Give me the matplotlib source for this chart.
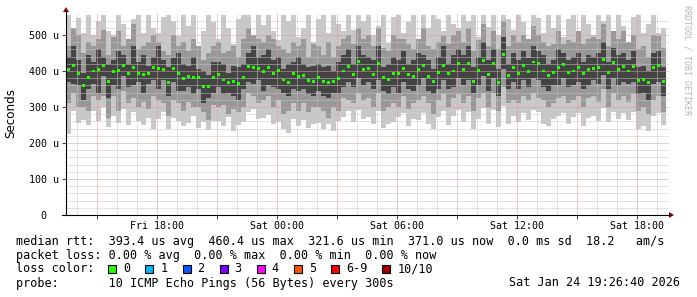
import numpy as np
import matplotlib
matplotlib.use("Agg")
import matplotlib.pyplot as plt
from matplotlib.transforms import Affine2D
from matplotlib.patches import Rectangle, Polygon
from matplotlib.lines import Line2D

# -----------------------------------------------------
# data (microseconds), one column per 15 minutes,
# window starts Fri 13:26:40 and ends Sat 19:26:40
# -----------------------------------------------------
step_h = 0.25

median = [405, 415, 392, 361, 382, 400, 404, 415, 370, 398,
          402, 416, 392, 411, 394, 390, 392, 411, 408, 404,
          368, 407, 392, 380, 386, 383, 381, 356, 357, 382,
          390, 375, 368, 370, 366, 382, 412, 411, 408, 398,
          410, 392, 401, 375, 368, 392, 386, 388, 374, 372,
          383, 372, 369, 370, 378, 400, 412, 389, 426, 404,
          408, 390, 420, 382, 376, 392, 394, 406, 390, 386,
          404, 416, 386, 372, 397, 414, 392, 400, 420, 405,
          420, 370, 401, 428, 390, 422, 369, 447, 388, 411,
          394, 414, 399, 425, 420, 400, 388, 395, 410, 418,
          395, 400, 411, 394, 404, 408, 410, 431, 395, 423,
          405, 413, 400, 412, 374, 376, 368, 410, 416, 372]

# highest ping
ping_max = [556, 520, 548, 505, 556, 470, 540, 556, 512, 495,
            556, 530, 488, 545, 556, 505, 556, 520, 480, 550,
            556, 540, 498, 556, 525, 556, 470, 510, 556, 535,
            490, 556, 520, 476, 545, 556, 556, 500, 556, 528,
            556, 512, 485, 556, 540, 556, 495, 520, 556, 480,
            545, 556, 505, 556, 530, 488, 556, 515, 556, 540,
            556, 500, 525, 556, 478, 550, 556, 505, 535, 556,
            490, 556, 520, 556, 545, 498, 556, 530, 510, 556,
            540, 556, 485, 556, 522, 556, 500, 556, 545, 515,
            556, 535, 490, 556, 548, 505, 556, 520, 556, 475,
            545, 556, 510, 556, 530, 495, 556, 540, 556, 512,
            556, 525, 480, 550, 556, 505, 530, 556, 498, 520]

# outer upper ping
ping_hi2 = [470, 520, 500, 450, 480, 500, 490, 515, 445, 500,
            510, 470, 490, 530, 460, 470, 480, 500, 505, 455,
            445, 500, 470, 480, 455, 490, 470, 430, 450, 470,
            480, 450, 455, 470, 440, 490, 520, 500, 490, 480,
            500, 490, 470, 460, 450, 480, 470, 490, 440, 475,
            470, 445, 480, 440, 470, 510, 500, 475, 520, 490,
            500, 470, 520, 465, 455, 500, 490, 490, 475, 460,
            490, 520, 470, 460, 480, 510, 475, 500, 520, 480,
            520, 455, 495, 530, 470, 510, 460, 540, 470, 500,
            480, 500, 490, 525, 500, 480, 470, 475, 510, 495,
            485, 480, 510, 475, 490, 500, 490, 530, 470, 510,
            490, 510, 480, 500, 460, 470, 440, 500, 505, 465]

# inner upper ping
ping_hi3 = [440, 470, 430, 395, 445, 425, 460, 440, 420, 430,
            455, 445, 420, 470, 425, 445, 415, 440, 470, 430,
            410, 435, 450, 420, 415, 440, 405, 400, 390, 425,
            425, 420, 395, 415, 410, 420, 450, 470, 440, 445,
            460, 430, 440, 405, 420, 425, 440, 420, 410, 415,
            420, 410, 415, 400, 425, 445, 460, 420, 470, 445,
            440, 430, 470, 410, 420, 440, 430, 455, 420, 430,
            450, 445, 430, 405, 440, 470, 420, 445, 460, 445,
            470, 410, 440, 480, 430, 460, 405, 495, 420, 450,
            430, 455, 435, 470, 455, 445, 420, 430, 460, 450,
            430, 440, 450, 425, 445, 440, 450, 480, 425, 465,
            445, 450, 430, 455, 410, 415, 400, 450, 455, 410]

# inner lower ping
ping_lo3 = [370, 365, 360, 320, 350, 365, 340, 385, 325, 360,
            350, 385, 355, 360, 370, 340, 365, 375, 350, 375,
            330, 370, 345, 345, 355, 335, 350, 310, 325, 340,
            355, 335, 340, 330, 320, 350, 370, 365, 375, 345,
            360, 355, 350, 340, 330, 350, 345, 350, 335, 330,
            345, 330, 325, 340, 340, 355, 370, 355, 380, 360,
            370, 350, 375, 345, 335, 355, 340, 370, 350, 345,
            360, 380, 345, 335, 350, 375, 350, 355, 380, 360,
            375, 340, 360, 385, 345, 380, 330, 405, 350, 370,
            350, 375, 355, 380, 375, 355, 345, 360, 360, 380,
            355, 360, 370, 350, 360, 375, 365, 390, 350, 380,
            360, 370, 365, 370, 335, 340, 320, 365, 370, 330]

# outer lower ping
ping_lo2 = [310, 340, 300, 300, 290, 330, 320, 330, 270, 330,
            290, 345, 310, 325, 300, 315, 295, 330, 320, 310,
            275, 320, 310, 290, 315, 300, 300, 285, 265, 305,
            300, 305, 280, 295, 285, 300, 340, 330, 310, 320,
            330, 300, 320, 280, 290, 310, 290, 310, 285, 300,
            300, 290, 270, 300, 290, 325, 320, 310, 340, 320,
            325, 300, 340, 290, 300, 310, 300, 330, 295, 310,
            320, 330, 310, 280, 320, 335, 300, 325, 335, 310,
            330, 290, 325, 340, 300, 340, 290, 355, 310, 320,
            310, 330, 320, 340, 325, 320, 300, 310, 325, 330,
            310, 320, 330, 300, 325, 330, 315, 350, 300, 340,
            320, 330, 315, 335, 290, 300, 280, 320, 330, 285]

# lowest ping
ping_min = [225, 290, 255, 265, 250, 290, 262, 300, 245, 275,
            255, 295, 250, 285, 262, 250, 270, 240, 268, 285,
            240, 270, 262, 248, 255, 275, 242, 258, 236, 262,
            262, 248, 272, 232, 250, 258, 285, 295, 268, 270,
            278, 252, 258, 238, 228, 268, 248, 265, 243, 252,
            256, 238, 252, 233, 262, 272, 288, 258, 292, 268,
            272, 252, 288, 242, 252, 258, 272, 282, 248, 266,
            265, 282, 252, 238, 272, 288, 250, 276, 292, 258,
            286, 238, 266, 296, 252, 292, 244, 302, 254, 276,
            258, 282, 264, 292, 286, 254, 248, 266, 274, 282,
            254, 272, 282, 248, 270, 276, 262, 296, 258, 286,
            268, 282, 264, 286, 238, 246, 232, 276, 282, 250]

y_ticks = [0, 100, 200, 300, 400, 500]
y_labels = ["0", "100 u", "200 u", "300 u", "400 u", "500 u"]
x_tick_hours = [4.5556, 10.5556, 16.5556, 22.5556, 28.5556]
x_labels = ["Fri 18:00", "Sat 00:00", "Sat 06:00", "Sat 12:00", "Sat 18:00"]

loss_labels = ["0", "1", "2", "3", "4", "5", "6-9", "10/10"]
loss_colors = ["#26ff00", "#00b8ff", "#0059ff", "#7e00ff", "#ff00ff",
               "#ff5500", "#ff0000", "#a10000"]

stats_line = "median rtt:  393.4 us avg  460.4 us max  321.6 us min  371.0 us now  0.0 ms sd  18.2   am/s"
loss_line = "packet loss: 0.00 % avg  0.00 % max  0.00 % min  0.00 % now"
probe_line = "probe:       10 ICMP Echo Pings (56 Bytes) every 300s"
stamp = "Sat Jan 24 19:26:40 2026"

# -----------------------------------------------------
# figure
# -----------------------------------------------------
W, H = 697, 297
fig = plt.figure(figsize=(W / 100, H / 100), dpi=100)
fig.patch.set_facecolor("white")
px = Affine2D().scale(1 / W, -1 / H).translate(0, 1) + fig.transFigure

y_top = 558
ax = fig.add_axes([66 / W, (H - 215) / H, 603 / W, (y_top * 0.36) / H])
ax.set_xlim(0, 30.15)
ax.set_ylim(0, y_top)
for s in ax.spines.values():
    s.set_visible(False)

t = np.arange(len(median)) * step_h
med = np.array(median, float)
upper = np.sort(np.vstack([ping_hi3, ping_hi2, ping_max]).astype(float), axis=0)
lower = np.sort(np.vstack([ping_min, ping_lo2, ping_lo3]).astype(float), axis=0)

# smoke: light outer band, mid band, dark core
shades = ["#c8c8c8", "#989898", "#444444"]
for k, col in enumerate(shades):
    ax.bar(t, upper[2 - k] - lower[k], bottom=lower[k], width=step_h,
           align="edge", color=col, linewidth=0, zorder=1)

# median markers
ax.bar(t + step_h / 2, 8.3, bottom=med - 4.15, width=step_h * 0.65,
       color="#26ff00", linewidth=0, zorder=4)

# grid, dotted on top of the smoke
dots = (0, (1, 1))
for v in range(20, y_top, 20):
    major = v % 100 == 0
    ax.axhline(v, color="#e09a9a" if major else "#c6c6c6", lw=0.72,
               ls=dots, zorder=3)
h = 0.5556
while h < 30.15:
    major = round(h - 1.5556) % 3 == 0
    ax.axvline(h, color="#e09a9a" if major else "#c6c6c6", lw=0.72,
               ls=dots, zorder=3)
    h += 1

# ticks and labels
mono = "DejaVu Sans Mono"
ax.set_yticks(y_ticks)
ax.set_yticklabels(y_labels, family=mono, fontsize=7.2)
for lab in ax.get_yticklabels():
    lab.set_horizontalalignment("center")
ax.tick_params(axis="y", length=3, width=0.72, color="#444444", pad=13)
ax.set_xticks(x_tick_hours)
ax.set_xticklabels(x_labels, family=mono, fontsize=7.2)
ax.set_xticks(np.arange(1.5556, 30.15, 3), minor=True)
ax.tick_params(axis="x", which="both", length=3, width=0.72,
               color="#444444", pad=1.5)

# axis lines with arrows
fig.add_artist(Line2D([66, 66], [215, 11], transform=px, color="black", lw=0.8))
fig.add_artist(Line2D([62, 670], [215, 215], transform=px, color="black", lw=0.8))
fig.add_artist(Polygon([[63, 12], [69, 12], [66, 7]], closed=True,
                       transform=px, color="#8b0000", lw=0))
fig.add_artist(Polygon([[669, 212], [669, 218], [674, 215]], closed=True,
                       transform=px, color="#8b0000", lw=0))

fig.text(11, 113, "Seconds", transform=px, rotation=90, fontsize=8.6,
         ha="center", va="center", family="DejaVu Sans")
fig.text(687, 60, "RRDTOOL / TOBI OETIKER", transform=px, rotation=270,
         fontsize=6, ha="center", va="center", family=mono, color="#b4b4b4")

# legend block
fs = 8.5
fig.text(16, 241, stats_line, transform=px, family=mono, fontsize=fs, va="center")
fig.text(16, 255, loss_line, transform=px, family=mono, fontsize=fs, va="center")
fig.text(16, 269, "loss color:", transform=px, family=mono, fontsize=fs, va="center")
x = 108.3
for lab, col in zip(loss_labels, loss_colors):
    fig.add_artist(Rectangle((x, 265.3), 8, 8, transform=px, facecolor=col,
                             edgecolor="black", lw=0.8))
    fig.text(x + 15, 269, lab, transform=px, family=mono, fontsize=fs, va="center")
    x += 30 + 7.1 * len(lab)
fig.text(16, 283, probe_line, transform=px, family=mono, fontsize=fs, va="center")
fig.text(680, 283, stamp, transform=px, family=mono, fontsize=fs, va="center",
         ha="right")

fig.savefig("out.png", dpi=100)
